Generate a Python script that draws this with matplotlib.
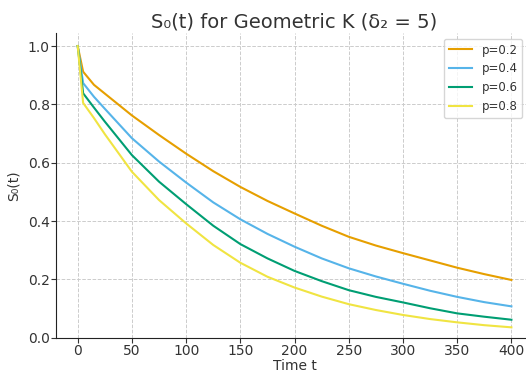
import matplotlib
matplotlib.use("Agg")
import matplotlib.pyplot as plt
import numpy as np

# survival curves
t = [0, 5, 15, 25, 50, 75, 100, 125, 150, 175, 200, 225, 250, 275, 300, 325, 350, 375, 400]
s_p02 = [1.0, 0.912, 0.867, 0.837, 0.762, 0.695, 0.631, 0.571, 0.517, 0.469, 0.426, 0.384,
         0.346, 0.316, 0.290, 0.265, 0.240, 0.218, 0.198]
s_p04 = [1.0, 0.873, 0.826, 0.785, 0.684, 0.604, 0.532, 0.464, 0.406, 0.356, 0.312, 0.272,
         0.238, 0.210, 0.185, 0.161, 0.140, 0.122, 0.1075]
s_p06 = [1.0, 0.838, 0.789, 0.741, 0.626, 0.535, 0.458, 0.384, 0.321, 0.272, 0.229, 0.194,
         0.163, 0.140, 0.121, 0.101, 0.0835, 0.072, 0.0617]
s_p08 = [1.0, 0.805, 0.753, 0.698, 0.569, 0.472, 0.392, 0.318, 0.257, 0.209, 0.172, 0.141,
         0.115, 0.095, 0.078, 0.064, 0.0527, 0.043, 0.0356]

labels = ["p=0.2", "p=0.4", "p=0.6", "p=0.8"]
colors = ["#E69F00", "#56B4E9", "#009E73", "#F0E442"]

plt.rcParams['font.family'] = ['DejaVu Sans']
text_color = "#333333"

fig = plt.figure(figsize=(5.26, 3.74), dpi=100)
ax = fig.add_axes([0.1065, 0.097, 0.907, 0.815])

for s, lab, c in zip([s_p02, s_p04, s_p06, s_p08], labels, colors):
    ax.plot(t, s, color=c, linewidth=1.5, label=lab)

ax.set_xlim(-20, 420)
ax.set_ylim(0, 1.045)
ax.set_xticks(np.arange(0, 401, 50))
ax.set_yticks([0.0, 0.2, 0.4, 0.6, 0.8, 1.0])
ax.yaxis.set_major_formatter(matplotlib.ticker.FormatStrFormatter('%.1f'))

ax.grid(True, linestyle='--', color='#cccccc', linewidth=0.7)
ax.set_axisbelow(True)
for side in ['top', 'right']:
    ax.spines[side].set_visible(False)
for side in ['left', 'bottom']:
    ax.spines[side].set_color('#222222')

ax.tick_params(labelsize=10, colors=text_color, length=3.5, pad=1)
ax.set_xlabel("Time t", fontsize=10, color=text_color, labelpad=1)
ax.set_ylabel("S₀(t)", fontsize=10, color=text_color, labelpad=5)
ax.set_title("S₀(t) for Geometric K (δ₂ = 5)", fontsize=14, color=text_color, pad=4)

ax.legend(loc='upper right', fontsize=8.5, frameon=True, edgecolor='#cccccc',
          bbox_to_anchor=(0.0, 0.0, 0.99, 1.0), labelcolor=text_color)

fig.savefig("out.png", dpi=100)
